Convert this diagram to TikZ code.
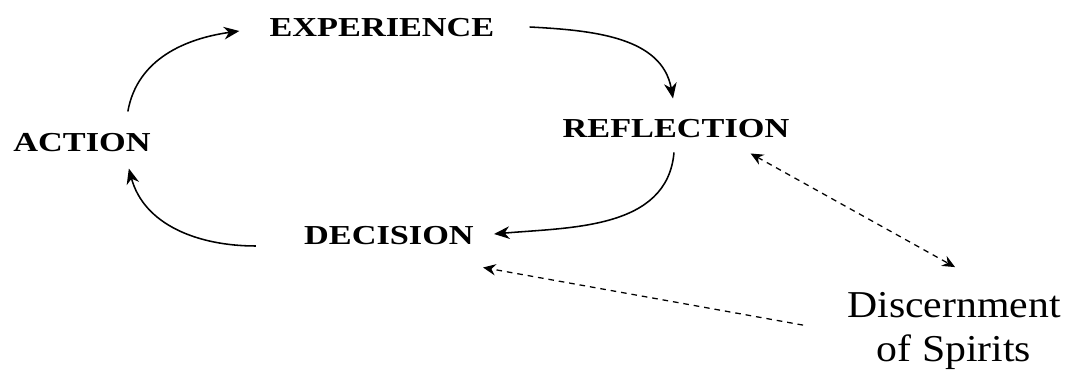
\documentclass[tikz,border=0pt]{standalone}
\usepackage{fontspec}
\setmainfont{Liberation Serif}
\newfontfamily\stagefont[FakeStretch=1.25]{Liberation Serif}
\newfontfamily\notefont[FakeStretch=1.1]{Liberation Serif}
\usetikzlibrary{arrows.meta}

\begin{document}
\begin{tikzpicture}[x=0.025cm,y=0.025cm]
\tikzstyle{fase} = [inner sep=0pt, font=\stagefont\bfseries\fontsize{19.5}{22}\selectfont]
\tikzstyle{giro} = [line width=1.1pt, -{Stealth[length=11pt,width=9pt,inset=3.5pt]}]
\tikzstyle{tratto} = [line width=0.9pt, dash pattern=on 4pt off 3.5pt, >={Stealth[length=9pt,width=8pt,inset=3pt]}]
\useasboundingbox (0,0) rectangle (1069,388);
\node[fase] (action) at (82,245) {ACTION};
\node[fase] (experience) at (382,360) {EXPERIENCE};
\node[fase] (reflection) at (676,259) {REFLECTION};
\node[fase] (decision) at (389,152) {DECISION};
\node[inner sep=0pt, align=center, font=\notefont\fontsize{27}{31.3}\selectfont] (spirits) at (954,57) {Discernment\\of Spirits};
% the cycle
\draw[giro] ([shift={(-23,22)}]action.north east) to[out=80,in=188] ([shift={(-30,-3)}]experience.west);
\draw[giro] ([shift={(35,1)}]experience.east) to[out=-3,in=100] ([shift={(-3,21)}]reflection.north);
\draw[giro] ([shift={(-2,-14)}]reflection.south) to[out=-95,in=5] ([shift={(20,2)}]decision.east);
\draw[giro] ([shift={(-48,-10)}]decision.west) to[out=180,in=-75] ([shift={(-22,-16)}]action.south east);
% discernment
\draw[tratto, <->] ([shift={(-39,-15)}]reflection.south east) -- ([shift={(1,25)}]spirits.north);
\draw[tratto, ->] ([shift={(-44,-33)}]spirits.north west) -- ([shift={(9,-22)}]decision.south east);
\end{tikzpicture}
\end{document}
